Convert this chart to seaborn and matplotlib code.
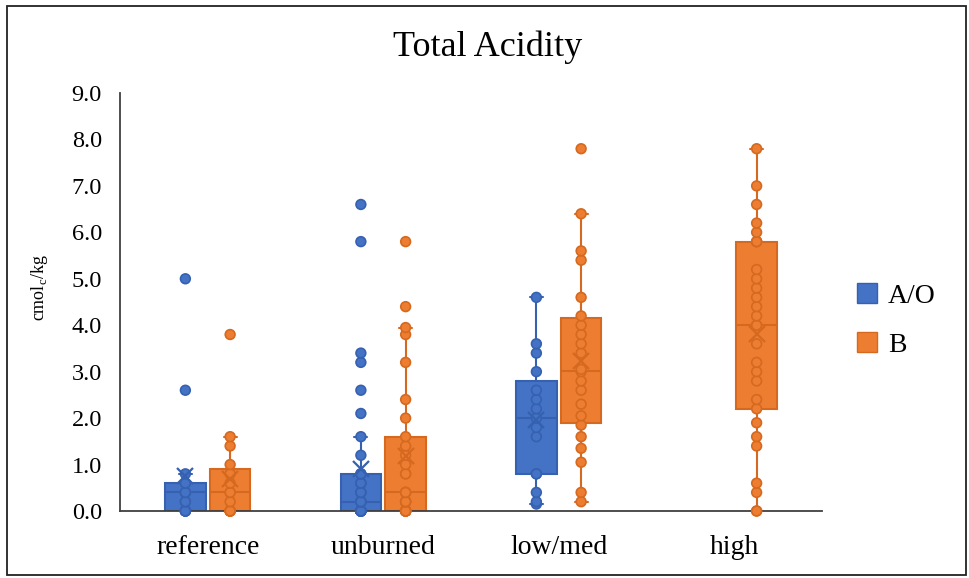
import pandas as pd
import seaborn as sns
import matplotlib.pyplot as plt
from matplotlib.patches import Patch, Rectangle

sites = ['reference', 'unburned', 'low/med', 'high']
horizons = ['A/O', 'B']

# values (cmolc/kg), many points overlap near zero
ref_ao = [0, 0, 0, 0, 0, 0.2, 0.2, 0.4, 0.4, 0.4, 0.6, 0.6, 0.8, 2.6, 5.0]
ref_b = [0, 0, 0, 0, 0, 0, 0.2, 0.4, 0.4, 0.6, 0.8, 1.0, 1.4, 1.6, 3.8]
unb_ao = [0, 0, 0, 0, 0, 0, 0, 0, 0, 0, 0, 0, 0, 0,
          0.2, 0.2, 0.2, 0.2, 0.2, 0.2, 0.4, 0.4, 0.4, 0.6, 0.6, 0.6,
          0.8, 0.8, 1.2, 1.6, 2.1, 2.6, 3.2, 3.4, 5.8, 6.6]
unb_b = [0, 0, 0, 0, 0, 0, 0, 0, 0, 0.2, 0.2, 0.2, 0.2, 0.4, 0.4, 0.4,
         0.8, 0.8, 1.0, 1.2, 1.4, 1.6, 2.0, 2.4, 3.2, 3.8, 3.95, 4.4, 5.8]
low_ao = [0.15, 0.2, 0.4, 0.8, 0.8, 1.6, 1.8, 2.0, 2.2, 2.4, 2.6, 3.0, 3.4, 3.6, 4.6]
low_b = [0.2, 0.4, 1.05, 1.35, 1.6, 1.85, 2.05, 2.3, 2.6, 2.8, 3.0, 3.05, 3.4,
         3.6, 3.8, 4.0, 4.2, 4.6, 5.4, 5.6, 6.4, 7.8]
high_b = [0, 0, 0.4, 0.6, 1.4, 1.6, 1.9, 2.2, 2.4, 2.8, 3.0, 3.2, 3.6, 4.0, 4.0,
          4.2, 4.4, 4.6, 4.8, 5.0, 5.2, 5.8, 5.8, 5.8, 6.0, 6.2, 6.6, 7.0, 7.8]

groups = [('reference', 'A/O', ref_ao), ('reference', 'B', ref_b),
          ('unburned', 'A/O', unb_ao), ('unburned', 'B', unb_b),
          ('low/med', 'A/O', low_ao), ('low/med', 'B', low_b),
          ('high', 'B', high_b)]
rows = []
for site, hz, vals in groups:
    for v in vals:
        rows.append({'site': site, 'horizon': hz, 'value': v})
df = pd.DataFrame(rows)

face_cols = ['#4472C4', '#ED7D31']
edge_cols = ['#3561B0', '#D4691F']

sns.set_style('white')
plt.rcParams['font.family'] = ['Liberation Serif', 'DejaVu Serif']
plt.rcParams['mathtext.fontset'] = 'custom'
plt.rcParams['mathtext.rm'] = 'Liberation Serif'
plt.rcParams['text.color'] = 'black'
plt.rcParams['axes.labelcolor'] = 'black'
plt.rcParams['xtick.color'] = 'black'
plt.rcParams['ytick.color'] = 'black'

fig = plt.figure(figsize=(9.69, 5.78), dpi=100)
ax = fig.add_axes([120/969, 67/578, 702/969, 418/578])

sns.boxplot(data=df, x='site', y='value', hue='horizon', order=sites,
            hue_order=horizons, palette=face_cols, saturation=1,
            width=0.51, gap=0.09, whis=1.5, showfliers=False,
            showmeans=True, capwidths=0.075, linewidth=1.5,
            meanprops={'marker': 'x', 'markersize': 11, 'markeredgewidth': 1.6},
            legend=False, ax=ax)

for cont, fc, ec in zip(ax.containers, face_cols, edge_cols):
    for b in cont.boxes:
        b.set_facecolor(fc)
        b.set_edgecolor(ec)
    lines = list(cont.medians) + list(cont.whiskers) + list(cont.caps)
    for ln in lines:
        ln.set_color(ec)
    for ln in getattr(cont, 'means', []):
        ln.set_markeredgecolor(ec)
        ln.set_markerfacecolor(ec)
        ln.set_zorder(6)

n_before = len(ax.collections)
sns.stripplot(data=df, x='site', y='value', hue='horizon', order=sites,
              hue_order=horizons, palette=face_cols, dodge=True, jitter=False,
              size=7, linewidth=1.2, legend=False, ax=ax)

# stripplot dodges on a 0.8 width, pull points onto the box centres
for coll in ax.collections[n_before:]:
    offs = coll.get_offsets()
    if len(offs) == 0:
        continue
    cx = round(offs[0, 0])
    offs[:, 0] = cx + (offs[:, 0] - cx) * (0.51 / 0.8)
    coll.set_offsets(offs)
    fc = coll.get_facecolor()[0]
    ec = edge_cols[0] if fc[2] > fc[0] else edge_cols[1]
    coll.set_edgecolor(ec)
    coll.set_clip_on(False)
    coll.set_zorder(5)

ax.set_xlim(-0.5, 3.5)
ax.set_ylim(0, 9)
ax.set_yticks(range(10))
ax.set_yticklabels([f'{t:.1f}' for t in range(10)])
ax.tick_params(axis='y', length=0, pad=13, labelsize=17.5)
ax.tick_params(axis='x', length=0, pad=17, labelsize=20)
ax.set_xlabel('')
ax.set_ylabel(r'cmol$_{\mathrm{c}}$/kg', fontsize=13)
ax.yaxis.set_label_coords(-0.1, 0.535)
for side in ['top', 'right']:
    ax.spines[side].set_visible(False)
for side in ['left', 'bottom']:
    ax.spines[side].set_color('#404040')
    ax.spines[side].set_linewidth(1.3)

fig.text(0.503, 1 - 47/578, 'Total Acidity', ha='center', va='center', fontsize=26)

handles = [Patch(facecolor=face_cols[i], edgecolor=edge_cols[i], label=horizons[i])
           for i in range(2)]
fig.legend(handles=handles, loc='upper left', bbox_to_anchor=(857/969, 1 - 283/578),
           frameon=False, fontsize=20, handlelength=0.72, handleheight=0.72,
           handletextpad=0.4, labelspacing=0.85, borderpad=0, borderaxespad=0)

fig.patches.append(Rectangle((7/969, 3/578), 959/969, 569/578, transform=fig.transFigure,
                             fill=False, edgecolor='#222222', linewidth=1.3))

fig.savefig('out.png', dpi=100)
